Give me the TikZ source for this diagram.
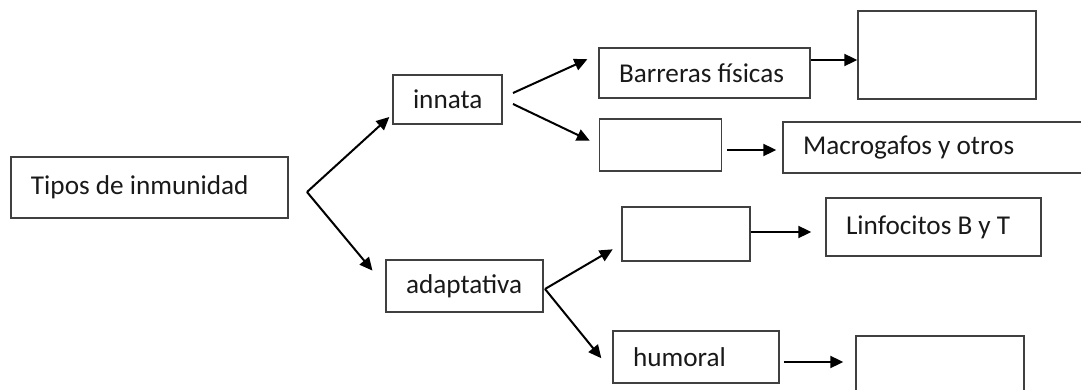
\documentclass[tikz,border=0pt]{standalone}
\usepackage{fontspec}
\setmainfont{Carlito}
\usepackage{tikz}
\usetikzlibrary{arrows.meta}

\tikzset{
    box/.style={draw=black!75, line width=0.7pt, rectangle, inner xsep=10pt, inner ysep=2pt,
        text=black!90, font=\fontsize{13.6}{16}\selectfont, align=flush left},
    arr/.style={->, line width=1pt},
    >={Triangle[length=6.5pt,width=6pt]}
}

\begin{document}
\begin{tikzpicture}[x=0.5pt, y=-0.5pt]
            \useasboundingbox (0,0) rectangle (1081,390);
            \clip (0,0) rectangle (1081,390);

            \node[box, text width=118.5pt, minimum height=30.5pt] (tipos) at (149.5,187.5) {Tipos de inmunidad};

            \node[box, text width=34.5pt, minimum height=24.5pt] (innata) at (447.5,99.5) {innata};
            \node[box, text width=58.5pt, minimum height=26pt] (adapt) at (464.5,286) {adaptativa};

            \node[box, text width=85.5pt, minimum height=25pt] (barreras) at (704.5,73) {Barreras físicas};
            \node[box, minimum width=61pt, minimum height=26pt] (e1) at (660.5,145) {};
            \node[box, minimum width=64pt, minimum height=27pt] (e2) at (686,234) {};
            \node[box, text width=63pt, minimum height=26pt] (humoral) at (696,357) {humoral};

            \node[box, minimum width=89pt, minimum height=44pt] (tr) at (947,55) {};
            \node[box, text width=133.5pt, minimum height=25.5pt] (macro) at (936.5,147.5) {Macrogafos y otros};
            \node[box, text width=87.5pt, minimum height=29pt] (linf) at (933.5,227) {Linfocitos B y T};
            \node[box, minimum width=84pt, minimum height=34pt] (e4) at (940,370) {};

            \coordinate (f0) at (307,192);
            \coordinate (g1) at (513,93);
            \coordinate (g2) at (513,104);
            \coordinate (h0) at (545,289);

            \draw[arr, shorten >=2pt] (f0) -- (innata.195);
            \draw[arr, shorten >=10pt] (f0) -- (adapt.west);

            \draw[arr, shorten >=6pt] (g1) -- (barreras.170);
            \draw[arr, shorten >=5pt] (g2) -- (e1.west);

            \draw[arr, shorten >=5pt] (h0) -- (e2.189);
            \draw[arr, shorten >=8.7pt] (h0) -- (humoral.190);

            \draw[arr] ([yshift=6.5pt]barreras.east) -- ([yshift=6.5pt]barreras.east -| tr.west);
            \draw[arr, shorten <=2.5pt, shorten >=3pt] ([yshift=-2.5pt]e1.east) -- ([yshift=-2.5pt]e1.east -| macro.west);
            \draw[arr, shorten >=7pt] ([yshift=1pt]e2.east) -- ([yshift=1pt]e2.east -| linf.west);
            \draw[arr, shorten <=2pt, shorten >=6pt] ([yshift=-2.5pt]humoral.east) -- ([yshift=-2.5pt]humoral.east -| e4.west);
        \end{tikzpicture}
\end{document}
